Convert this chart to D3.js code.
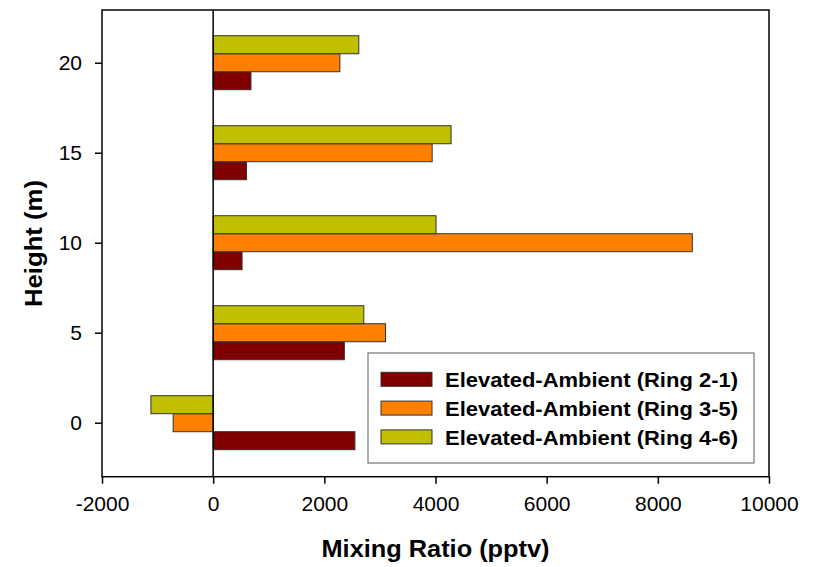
<!DOCTYPE html>
<html>
<head>
<meta charset="utf-8">
<script src="https://cdn.jsdelivr.net/npm/d3@7"></script>
<style>
  body { margin: 0; background: #fff; }
  svg text { font-family: "Liberation Sans", Arial, sans-serif; }
</style>
</head>
<body>
<svg id="chart" width="815" height="567"></svg>
<script>
// heights (m) and mixing ratio differences (pptv)
var heights = [0, 5, 10, 15, 20];
var ring21 = [2550, 2360, 520, 600, 680];
var ring35 = [-720, 3100, 8620, 3940, 2280];
var ring46 = [-1120, 2710, 4010, 4280, 2620];
var seriesNames = ["Elevated-Ambient (Ring 2-1)", "Elevated-Ambient (Ring 3-5)", "Elevated-Ambient (Ring 4-6)"];
var xTicks = [-2000, 0, 2000, 4000, 6000, 8000, 10000];
var yTicks = [0, 5, 10, 15, 20];

var colors = ["#800000", "#ff8000", "#c0c000"];
var series = [ring21, ring35, ring46];

var svg = d3.select("#chart");
var pLeft = 102, pRight = 769, pTop = 10, pBottom = 476.7;

var x = d3.scaleLinear().domain([-2000, 10000]).range([pLeft, pRight]);
var y = d3.scaleLinear().domain([-3, 22.93]).range([pBottom, pTop]);

// bars: each series one height unit thick, red below, yellow above
var g = svg.append("g");
series.forEach(function(vals, s) {
  var off = s - 1;
  g.selectAll(".bar" + s)
    .data(vals)
    .enter().append("rect")
    .attr("class", "bar" + s)
    .attr("x", function(d) { return x(Math.min(0, d)); })
    .attr("width", function(d) { return Math.abs(x(d) - x(0)); })
    .attr("y", function(d, i) { return y(heights[i] + off + 0.5); })
    .attr("height", function(d, i) { return y(heights[i] + off - 0.5) - y(heights[i] + off + 0.5); })
    .attr("fill", colors[s])
    .attr("stroke", "#333")
    .attr("stroke-width", 1);
});

// zero line
svg.append("line")
  .attr("x1", x(0)).attr("x2", x(0))
  .attr("y1", pTop).attr("y2", pBottom)
  .attr("stroke", "#000").attr("stroke-width", 1.5);

// frame
svg.append("rect")
  .attr("x", pLeft).attr("y", pTop)
  .attr("width", pRight - pLeft).attr("height", pBottom - pTop)
  .attr("fill", "none").attr("stroke", "#000").attr("stroke-width", 1.5);

var xAxis = svg.append("g")
  .attr("transform", "translate(0," + pBottom + ")")
  .call(d3.axisBottom(x).tickValues(xTicks).tickSize(7).tickPadding(12)
    .tickFormat(function(d) { return String(d); }));
var yAxis = svg.append("g")
  .attr("transform", "translate(" + pLeft + ",0)")
  .call(d3.axisLeft(y).tickValues(yTicks).tickSize(7).tickPadding(13));
[xAxis, yAxis].forEach(function(a) {
  a.select(".domain").remove();
  a.selectAll(".tick line").attr("stroke", "#000").attr("stroke-width", 1.5);
  a.selectAll("text").attr("font-size", 21).attr("fill", "#000")
    .style("font-family", "'Liberation Sans', Arial, sans-serif");
});

// axis titles
svg.append("text")
  .attr("x", (pLeft + pRight) / 2).attr("y", 557)
  .attr("text-anchor", "middle")
  .attr("font-size", 23).attr("font-weight", "bold")
  .attr("textLength", 228).attr("lengthAdjust", "spacingAndGlyphs")
  .text("Mixing Ratio (pptv)");
svg.append("text")
  .attr("transform", "translate(42,243.5) rotate(-90)")
  .attr("text-anchor", "middle")
  .attr("font-size", 23).attr("font-weight", "bold")
  .attr("textLength", 127).attr("lengthAdjust", "spacingAndGlyphs")
  .text("Height (m)");

// legend
var lg = svg.append("g").attr("transform", "translate(368,353)");
lg.append("rect")
  .attr("width", 386).attr("height", 110)
  .attr("fill", "#fff").attr("stroke", "#777").attr("stroke-width", 1.2);
var item = lg.selectAll(".item")
  .data(seriesNames)
  .enter().append("g")
  .attr("transform", function(d, i) { return "translate(0," + (26.3 + i * 28.8) + ")"; });
item.append("rect")
  .attr("x", 13).attr("y", -7).attr("width", 51).attr("height", 14)
  .attr("fill", function(d, i) { return colors[i]; })
  .attr("stroke", "#333").attr("stroke-width", 1);
item.append("text")
  .attr("x", 77).attr("y", 8)
  .attr("font-size", 21).attr("font-weight", "bold")
  .attr("textLength", 293).attr("lengthAdjust", "spacingAndGlyphs")
  .text(function(d) { return d; });
</script>
</body>
</html>
